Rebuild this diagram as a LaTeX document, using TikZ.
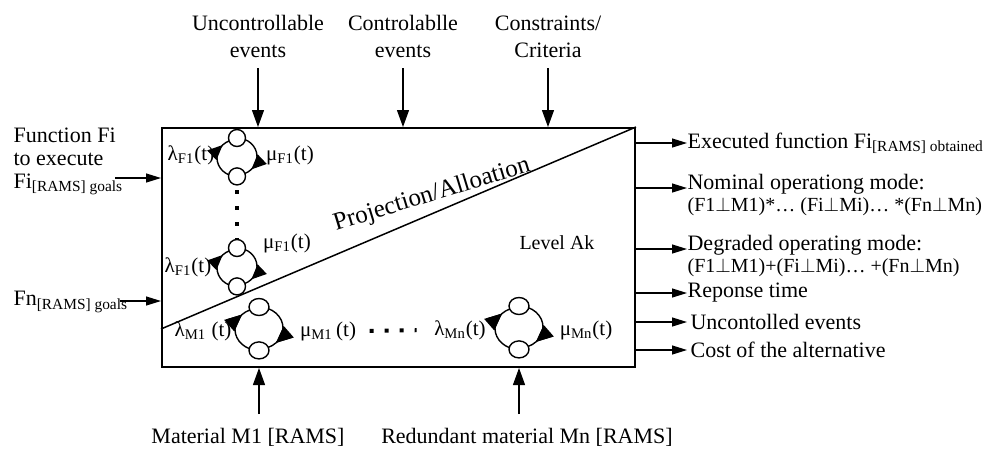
\documentclass[tikz,border=0pt]{standalone}
\usepackage{fontspec}
\setmainfont{Liberation Serif}
\usepackage{tikz}
\usetikzlibrary{arrows.meta}
\usetikzlibrary{decorations.markings}
\usetikzlibrary{shapes.geometric}
\usetikzlibrary{backgrounds}
\usetikzlibrary{positioning}

\begin{document}
\begin{tikzpicture}[x=0.5pt,y=-0.5pt,line width=0.6pt,font=\fontsize{11}{11.5}\selectfont,node distance=2pt]
	\tikzstyle{inarrow}=[-{Triangle[length=8.5pt,width=6pt]}]
	\tikzstyle{outarrow}=[-{Triangle[length=7.5pt,width=4.5pt]}]
	\tikzstyle{txt}=[inner sep=0pt,align=left]
	\tikzstyle{rate}=[inner sep=0pt,font=\fontsize{10.5}{10.5}\selectfont]
	\tikzstyle{fstate}=[circle,draw,fill=white,line width=0.7pt,inner sep=0pt,minimum size=8.5pt]
	\tikzstyle{mstate}=[ellipse,draw,fill=white,line width=0.7pt,inner sep=0pt,minimum width=10pt,minimum height=8.5pt]
	\tikzstyle{turn}=[line width=0.7pt,postaction={decorate},decoration={markings,mark=at position 0.74 with {\arrow{Triangle[length=7.5pt,width=6.5pt]}}}]
	\tikzstyle{bigturn}=[turn,decoration={markings,mark=at position 0.74 with {\arrow{Triangle[length=8.5pt,width=7.5pt]}}}]
	\tikzstyle{dotrow}=[line width=2pt,dash pattern=on 2pt off 6pt]
	\tikzstyle{small}=[font=\fontsize{11}{11}\selectfont]
	\useasboundingbox (0,0) rectangle (987,452);

	% level block
	\node[draw,line width=1pt,inner sep=0pt,minimum width=236.5pt,minimum height=119.5pt] (blk) at (398.5,247.5) {};
	\draw[line width=0.75pt] ([yshift=19.5pt]blk.south west) -- (blk.north east);
	\node[rotate=17,font=\fontsize{12.5}{12.5}\selectfont] (proj) at (432,195) {Projection/Alloation};
	\node[font=\fontsize{10}{10}\selectfont] (lvl) at (557,243) {Level Ak};

	% function states
	\node[fstate] (F1a) at (237,138) {};
	\node[fstate] (F1b) [below=10pt of F1a] {};
	\node[fstate] (F2a) at (237,248) {};
	\node[fstate] (F2b) [below=10pt of F2a] {};
	\node[rate] (lF1) at (191,155) {λ\textsubscript{F1}(t)};
	\node[rate] (mF1) at (290,155) {μ\textsubscript{F1}(t)};
	\node[rate] (lF2) at (188,267) {λ\textsubscript{F1}(t)};
	\node[rate] (mF2) at (287,243) {μ\textsubscript{F1}(t)};
	\draw[dotrow,shorten <=2.25pt] (F1b.south) -- (F2a.north);

	% material states
	\node[mstate] (M1a) at (259,307) {};
	\node[mstate] (M1b) [below=12.5pt of M1a] {};
	\node[mstate] (Mna) at (519,306) {};
	\node[mstate] (Mnb) [below=12.5pt of Mna] {};
	\node[rate] (lM1) at (203,331) {λ\textsubscript{M1} (t)};
	\node[rate] (mM1) at (328,331) {μ\textsubscript{M1}\,(t)};
	\node[rate] (lMn) at (460,330) {λ\textsubscript{Mn}(t)};
	\node[rate] (mMn) at (586,330) {μ\textsubscript{Mn}(t)};
	\draw[dotrow,dash pattern=on 2pt off 5.5pt,shorten <=6.5pt,shorten >=8.5pt] (mM1.east) -- (lMn.west);

	\begin{scope}[on background layer]
		\draw[turn] (F1b.center) arc[start angle=90,end angle=270,x radius=20,y radius=18.5];
		\draw[turn] (F1a.center) arc[start angle=-90,end angle=90,x radius=20,y radius=18.5];
		\draw[turn] (F2b.center) arc[start angle=90,end angle=270,x radius=20,y radius=18.5];
		\draw[turn] (F2a.center) arc[start angle=-90,end angle=90,x radius=20,y radius=18.5];
		\draw[bigturn] (M1b.center) arc[start angle=90,end angle=270,x radius=24,y radius=21];
		\draw[bigturn] (M1a.center) arc[start angle=-90,end angle=90,x radius=24,y radius=21];
		\draw[bigturn] (Mnb.center) arc[start angle=90,end angle=270,x radius=24,y radius=21];
		\draw[bigturn] (Mna.center) arc[start angle=-90,end angle=90,x radius=24,y radius=21];
	\end{scope}

	% events and criteria
	\coordinate (c1) at (258,68);
	\coordinate (c2) at (403,68);
	\coordinate (c3) at (548,68);
	\node[txt,align=center,above=5pt of c1,font=\fontsize{11}{13.5}\selectfont] (unc) {Uncontrollable\\events};
	\node[txt,align=center,above=5pt of c2,font=\fontsize{11}{13.5}\selectfont] (con) {Controlablle\\events};
	\node[txt,align=center,above=5pt of c3,font=\fontsize{11}{13.5}\selectfont] (crit) {Constraints/\\Criteria};
	\draw[inarrow] (c1) -- (c1 |- blk.north);
	\draw[inarrow] (c2) -- (c2 |- blk.north);
	\draw[inarrow] (c3) -- (c3 |- blk.north);

	% functions to execute
	\node[txt,anchor=north west] (fi) at (13,127) {Function Fi\\to execute\\Fi\textsubscript{[RAMS] goals}};
	\node[txt,anchor=west] (fn) at (13,302) {Fn\textsubscript{[RAMS] goals}};
	\coordinate (i1) at (115,178);
	\coordinate (i2) at (120,301);
	\draw[outarrow] (i1) -- (i1 -| blk.west);
	\draw[outarrow] (i2) -- (i2 -| blk.west);

	% materials
	\coordinate (b1) at (259,414);
	\coordinate (b2) at (519,414);
	\draw[inarrow] (b1) -- (b1 |- blk.south);
	\draw[inarrow] (b2) -- (b2 |- blk.south);
	\node (mat1) at (248,437) {Material M1 [RAMS]};
	\node (matn) at (527,437) {Redundant material Mn [RAMS]};

	% results
	\node[txt,anchor=west] (o1) at (687,143) {Executed function Fi\textsubscript{[RAMS] obtained}};
	\node[txt,small,anchor=north west] (o2) at (687,174) {Nominal operationg mode:\\{\fontsize{10}{11}\selectfont(F1${\perp}$M1)*… (Fi${\perp}$Mi)… *(Fn${\perp}$Mn)}};
	\node[txt,small,anchor=north west] (o3) at (687,235) {Degraded operating mode:\\{\fontsize{10}{11}\selectfont(F1${\perp}$M1)+(Fi${\perp}$Mi)… +(Fn${\perp}$Mn)}};
	\node[txt,anchor=west] (o4) at (687,293) {Reponse time};
	\node[txt,anchor=west] (o5) at (690,322) {Uncontolled events};
	\node[txt,anchor=west] (o6) at (690,350) {Cost of the alternative};
	\coordinate[below=7pt of o2.north west] (t2);
	\coordinate[below=7pt of o3.north west] (t3);
	\draw[outarrow] (blk.east |- o1) -- (o1);
	\draw[outarrow] (blk.east |- t2) -- (t2);
	\draw[outarrow] (blk.east |- t3) -- (t3);
	\draw[outarrow] (blk.east |- o4) -- (o4);
	\draw[outarrow] (blk.east |- o5) -- ([xshift=-1.5pt]o5.west);
	\draw[outarrow] (blk.east |- o6) -- ([xshift=-1.5pt]o6.west);
\end{tikzpicture}
\end{document}
